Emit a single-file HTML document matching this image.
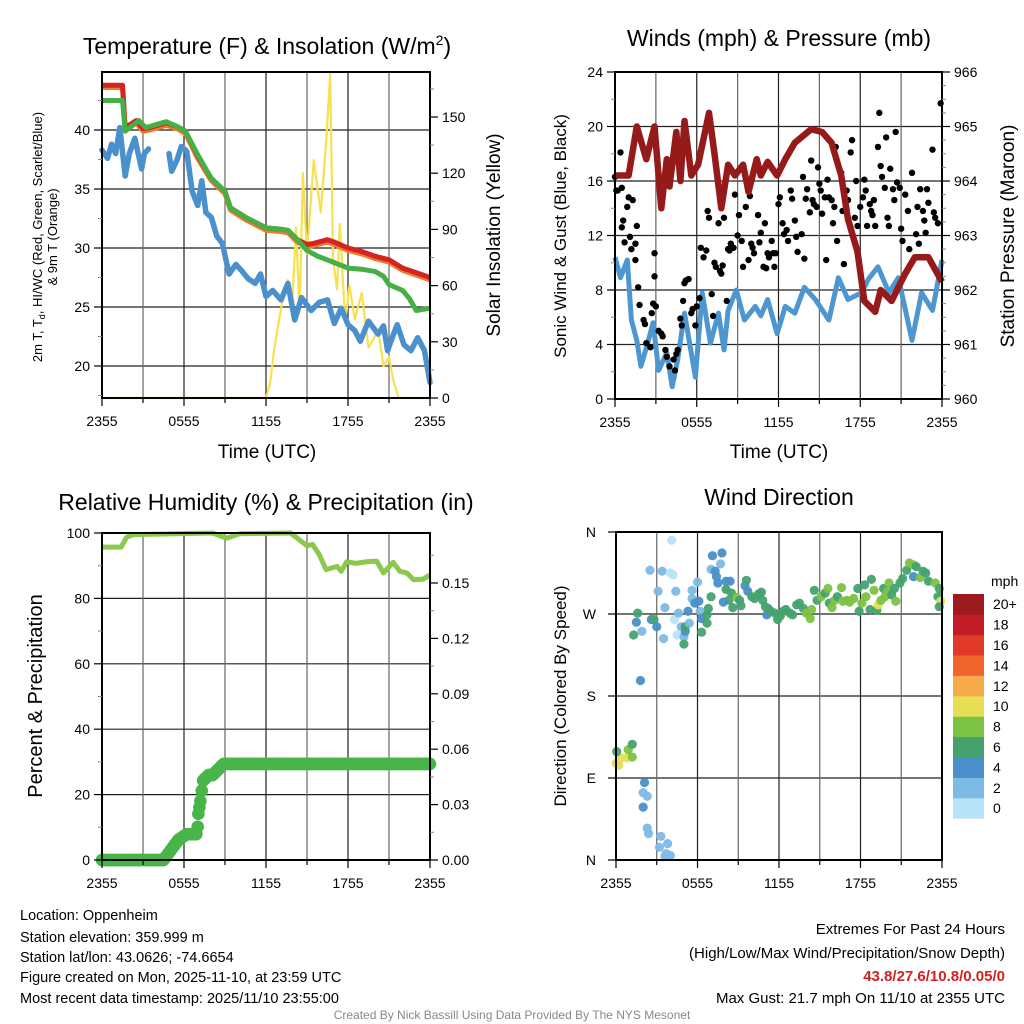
<!DOCTYPE html>
<html><head><meta charset="utf-8">
<style>
html,body{margin:0;padding:0;background:#fff;}
svg{display:block;font-family:"Liberation Sans",Arial,sans-serif;}
</style></head>
<body>
<svg id="chart" width="1024" height="1024" viewBox="0 0 1024 1024" xmlns="http://www.w3.org/2000/svg">
<rect width="1024" height="1024" fill="#fff"/>
<!-- titles -->
<text x="267" y="54" font-size="23" text-anchor="middle">Temperature (F) &amp; Insolation (W/m<tspan font-size="14" dy="-9">2</tspan><tspan dy="9">)</tspan></text>
<text x="779" y="46" font-size="23" text-anchor="middle">Winds (mph) &amp; Pressure (mb)</text>
<text x="266" y="510" font-size="23" text-anchor="middle">Relative Humidity (%) &amp; Precipitation (in)</text>
<text x="779" y="505" font-size="23" text-anchor="middle">Wind Direction</text>
<!-- axis titles -->
<text transform="translate(42,237) rotate(-90)" font-size="13" text-anchor="middle">2m T, T<tspan font-size="9" dy="3">d</tspan><tspan dy="-3">, HI/WC (Red, Green, Scarlet/Blue)</tspan></text>
<text transform="translate(57,237) rotate(-90)" font-size="13" text-anchor="middle">&amp; 9m T (Orange)</text>
<text transform="translate(500,235) rotate(-90)" font-size="19" text-anchor="middle">Solar Insolation (Yellow)</text>
<text transform="translate(566,236) rotate(-90)" font-size="17" text-anchor="middle">Sonic Wind &amp; Gust (Blue, Black)</text>
<text transform="translate(1014,236) rotate(-90)" font-size="19" text-anchor="middle">Station Pressure (Maroon)</text>
<text transform="translate(42,696) rotate(-90)" font-size="20" text-anchor="middle">Percent &amp; Precipitation</text>
<text transform="translate(566,696) rotate(-90)" font-size="17" text-anchor="middle">Direction (Colored By Speed)</text>
<text x="267" y="458" font-size="19" text-anchor="middle">Time (UTC)</text>
<text x="779" y="458" font-size="19" text-anchor="middle">Time (UTC)</text>
<!-- footer -->
<g font-size="14.5">
<text x="20" y="920">Location: Oppenheim</text>
<text x="20" y="942">Station elevation: 359.999 m</text>
<text x="20" y="962">Station lat/lon: 43.0626; -74.6654</text>
<text x="20" y="982">Figure created on Mon, 2025-11-10, at 23:59 UTC</text>
<text x="20" y="1003">Most recent data timestamp: 2025/11/10 23:55:00</text>
</g>
<g font-size="15" text-anchor="end">
<text x="1005" y="934">Extremes For Past 24 Hours</text>
<text x="1005" y="958">(High/Low/Max Wind/Precipitation/Snow Depth)</text>
<text x="1005" y="981" fill="#d42020" font-weight="bold">43.8/27.6/10.8/0.05/0</text>
<text x="1005" y="1003">Max Gust: 21.7 mph On 11/10 at 2355 UTC</text>
</g>
<text x="512" y="1019" font-size="12" fill="#888" text-anchor="middle">Created By Nick Bassill Using Data Provided By The NYS Mesonet</text>
<g id="layer"></g>
</svg>
<script>
// ---------- data ----------
const timeTickLabels = ["2355","0555","1155","1755","2355"];
const tempTicks = [20,25,30,35,40];
const solarTicks = [0,30,60,90,120,150];
const windTicks = [0,4,8,12,16,20,24];
const presTicks = [960,961,962,963,964,965,966];
const rhTicks = [0,20,40,60,80,100];
const precipTicks = [0,0.03,0.06,0.09,0.12,0.15];
const dirTickLabels = ["N","E","S","W","N"];
const speedBinLabels = ["0","2","4","6","8","10","12","14","16","18","20+"];
const speedBinColors = ["#b8e3f8","#7dbbe6","#4a8fc8","#45a26f","#7cc243","#e6df55","#f7aa4a","#f0642d","#e23a2a","#c21d26","#9b1b1e"];

// temperature (hours since 2355, degF)
const tempHours = [0,1.5,1.7,2.5,3.0,3.5,4.7,5.5,6.1,7,8,9,9.4,10.5,12,13,13.6,14.3,15,15.5,16.5,17,18,19,20,21,22,23,24];
const tempVals  = [43.8,43.8,40.2,40.8,40.1,40.2,40.6,40.3,39.9,37.8,35.9,34.8,33.4,32.6,31.7,31.6,31.5,30.7,30.3,30.4,30.7,30.5,30.0,29.7,29.3,29.0,28.3,27.9,27.5];
const hiHours = [0,1.5,1.7,2.7,3.2,4.7,5.5,6.1,7,8,9,9.4,10.5,12,13,13.6,14.3,15,15.8,16.7,18,19,20,20.6,21,22,22.5,23,24];
const hiVals  = [42.5,42.5,39.9,40.8,40.2,40.7,40.3,39.9,37.9,35.9,34.8,33.4,32.6,31.7,31.6,31.5,30.7,29.8,29.3,28.9,28.3,28.2,28.0,27.6,26.9,26.4,25.7,24.7,24.9];
const dewHours = [0,0.4,0.7,1.0,1.3,1.7,2.0,2.4,2.9,3.1,3.4,null,4.9,5.1,5.5,5.8,6.2,6.6,7.0,7.3,7.6,8.0,8.4,8.8,9.3,9.8,10.2,10.7,11.2,11.6,12,12.5,13.1,13.6,14.1,14.6,15.3,15.9,16.5,17,17.5,18,18.5,18.9,19.5,20.2,20.6,20.9,21.3,21.6,22.1,22.6,23.1,23.6,24];
const dewVals  = [38.3,37.6,38.8,38.0,40.2,36.1,38.0,39.3,36.7,38.0,38.4,null,38.0,36.5,37.5,38.6,38.2,34.8,33.6,35.7,33.0,32.6,31.0,30.4,27.8,28.6,28.1,27.4,27.0,27.8,25.9,26.4,25.6,27.0,23.9,25.8,24.7,25.4,25.6,23.6,24.9,23.5,23.0,22.1,23.8,22.7,23.4,21.3,22.6,23.5,21.8,21.3,22.4,21.3,18.6];
const solarHours = [0,12,12.3,12.6,13.2,13.6,13.9,14.2,14.45,14.7,15,15.5,16,16.4,16.7,16.9,17.2,17.4,17.8,18.1,18.5,19,19.5,20.2,20.6,21,21.3,21.7,22,24];
const solarVals  = [0,0,8,26,52,63,48,91,45,120,77,127,99,136,173,74,58,93,40,60,42,56,27,36,17,22,10,0,0,0];

// winds & pressure
const presHours = [0,1.0,1.6,2.3,2.9,3.4,3.8,4.0,4.5,4.8,5.1,5.6,6.1,6.9,7.3,7.8,8.3,8.8,9.4,9.8,10.4,10.7,11.2,11.9,12.5,13.2,14.4,15.2,15.9,16.6,17.1,17.8,18.3,19.1,19.5,20.3,21.3,22.0,23.0,24];
const presVals  = [964.1,964.1,965.0,964.4,965.0,963.5,964.4,963.9,964.9,964.0,965.1,964.1,964.3,965.25,964.5,963.5,964.3,964.1,964.3,963.8,964.4,964.1,964.35,964.1,964.4,964.7,964.95,964.9,964.7,964.1,963.3,962.7,961.8,961.6,962.0,961.8,962.3,962.6,962.6,962.15];
const windHours = [0,0.4,0.9,1.2,1.6,1.9,2.4,2.8,3.2,3.8,4.2,4.6,5.1,5.9,6.4,7.0,7.6,8.0,8.3,8.9,9.5,10.3,10.7,11.2,11.9,12.5,13.2,13.9,14.7,15.7,16.4,17.1,18.1,18.6,19.3,20.1,20.8,21.8,22.5,23.3,24];
const windVals  = [10.4,8.9,10.2,5.8,4.3,2.4,4.1,5.6,2.1,3.4,0.9,2.9,6.3,1.6,7.8,4.1,6.3,3.6,6.5,8.0,5.8,6.8,6.1,7.3,4.8,6.8,6.3,8.2,7.3,5.8,8.9,7.3,7.8,8.8,9.7,7.8,8.9,4.3,7.8,6.5,10.2];
const gustHours = [0,0.2,0.4,0.1,0.5,1.0,0.9,0.6,0.5,1.3,1.6,0.7,1.1,1.2,1.5,1.5,1.7,1.8,2.1,2.2,2.3,2.6,2.7,2.8,2.9,2.9,3.0,3.2,3.4,3.5,3.7,3.8,4.0,4.3,4.4,4.5,4.6,4.8,4.9,5.0,5.1,5.2,5.4,5.6,5.7,5.9,6.0,6.2,6.3,6.5,6.7,6.8,6.9,7.1,7.2,7.3,7.4,7.6,7.7,7.8,7.9,8.0,8.2,8.3,8.4,8.5,8.7,8.8,9.0,9.1,9.3,9.4,9.6,9.8,9.9,10.0,10.1,10.2,10.5,10.6,10.7,10.9,11.0,11.1,11.2,11.3,11.5,11.6,11.7,11.8,12.0,12.1,12.3,12.4,12.6,12.7,12.9,13.0,13.2,13.3,13.4,13.7,13.8,13.9,14.0,14.1,14.3,14.4,14.5,14.6,14.8,14.9,15.0,15.1,15.2,15.4,15.5,15.6,15.7,15.9,16.0,16.1,16.2,16.3,16.6,16.7,16.8,17.0,17.1,17.3,17.4,17.6,17.7,17.8,18.0,18.2,18.3,18.4,18.5,18.7,18.8,18.9,19.0,19.1,19.3,19.4,19.5,19.6,19.8,19.9,20.0,20.1,20.2,20.4,20.5,20.6,20.7,20.9,21.0,21.1,21.3,21.5,21.6,21.8,22.1,22.2,22.3,22.4,22.6,22.7,22.8,22.9,23.0,23.3,23.4,23.5,23.7,23.9];
const gustVals  = [16.3,15.3,18.1,15.3,15.5,14.8,14.1,13.1,12.6,14.6,12.7,11.5,11.9,11.0,11.4,10.2,8.2,6.9,5.8,5.5,4.1,3.8,6.3,7.0,10.7,9.0,6.8,5.0,4.8,4.6,3.6,3.1,2.4,2.9,2.1,3.3,3.6,5.9,5.4,7.2,8.5,8.7,8.8,6.3,6.6,5.4,6.8,7.4,11.1,10.4,10.9,13.8,13.3,7.7,6.1,10.0,9.7,12.9,9.4,9.2,9.8,13.3,7.2,11.0,10.9,11.4,11.1,15.0,12.0,13.5,11.6,9.7,14.1,10.2,14.9,11.4,11.1,10.7,13.5,11.5,12.2,9.7,12.9,9.6,10.7,10.4,11.6,10.7,9.7,10.7,14.3,14.8,12.9,12.1,12.4,11.6,15.3,14.7,13.1,11.9,10.8,12.1,16.3,10.3,14.7,15.4,13.7,17.5,14.6,14.3,14.1,17.0,15.8,15.3,13.6,14.8,10.2,16.1,14.8,14.6,12.9,14.1,18.5,11.6,16.6,13.8,9.9,15.3,14.6,18.1,19.0,13.3,16.0,12.7,14.1,14.8,16.1,15.3,12.7,14.3,13.8,13.5,14.6,12.7,18.5,21.0,17.1,16.3,15.5,19.2,13.3,12.7,16.9,15.4,14.6,19.6,15.9,15.5,12.5,11.6,15.0,13.8,11.0,16.6,12.1,14.1,11.4,15.4,13.8,13.1,12.2,15.4,14.4,18.3,13.7,13.3,12.9,21.7];

// RH & precip
const rhHours = [0,1.4,1.8,2.3,8.1,9.1,10.1,13.8,15.0,15.4,15.9,16.4,17.2,17.5,17.9,18.6,19.3,20.1,20.6,21.3,21.8,22.3,22.8,23.5,24];
const rhVals  = [95.7,95.7,98.7,99.5,100,98.4,99.8,100,96.1,96.5,93.4,88.8,89.8,88.3,91.2,90.7,91.2,91.4,87.8,91.0,88.3,87.8,85.7,85.9,87.2];
const precipHours = [0,4.5,4.95,5.6,6.2,6.9,7.0,7.05,7.2,7.4,7.8,8.1,8.9,24];
const precipVals  = [0,0,0.0045,0.011,0.014,0.014,0.018,0.025,0.032,0.043,0.046,0.046,0.052,0.052];

// wind direction (deg) and speed (mph)
const dirHours = [0.0,0.2,0.4,0.8,0.05,0.9,1.2,1.2,1.3,1.5,1.6,1.9,1.8,2.1,2.0,2.3,2.0,2.3,2.4,3.3,3.2,3.8,3.7,4.0,3.6,2.5,2.6,2.8,3.0,3.1,3.4,3.6,3.5,4.0,4.1,4.2,4.3,4.5,4.4,4.6,4.8,5.0,5.0,5.1,5.1,5.3,5.4,5.6,5.6,5.8,6.0,6.1,6.2,6.3,6.3,6.7,6.8,7.0,6.7,7.1,7.8,7.7,7.0,7.3,7.4,7.5,8.1,8.4,8.1,8.5,8.3,7.9,8.6,8.9,9.1,9.2,9.5,9.6,9.7,10.0,10.2,10.5,10.7,10.8,11.0,11.1,11.2,11.4,11.7,11.9,12.1,12.3,12.5,12.8,13.0,13.3,13.5,13.8,14.0,14.3,14.4,14.6,14.8,15.1,15.4,15.6,15.7,15.9,16.1,16.3,16.6,16.7,17.0,17.2,17.5,17.8,17.9,18.1,18.3,18.4,18.7,18.8,19.0,19.2,19.3,19.5,19.7,19.8,20.0,20.1,20.3,20.5,20.6,20.9,21.1,21.4,21.6,21.9,21.9,22.1,22.4,22.6,22.8,23.0,23.5,23.7,23.8,23.9,23.8];
const dirVals  = [106,104,112,112,119,121,113,127,247,261,271,251,197,85,74,70,58,35,29,26,14,18,7,5,4,318,264,264,256,295,317,277,243,315,351,313,264,247,295,271,256,245,237,251,256,273,260,296,287,282,305,284,273,250,265,269,276,289,260,334,337,325,319,317,311,304,306,306,297,293,285,283,277,288,285,279,301,307,295,289,287,292,294,285,278,269,276,273,271,264,268,273,275,271,269,280,282,276,271,265,275,296,285,289,293,298,282,277,285,289,299,284,285,283,287,298,273,282,302,289,275,308,296,274,280,285,298,289,295,304,291,298,284,304,309,318,326,324,311,322,310,317,315,306,304,289,298,284,278];
const dirSpeeds = [11,11,11,11,7,9,9,7,7,5,7,3,5,5,3,3,5,3,3,3,3,3,3,3,3,3,5,7,5,3,3,3,3,1,1,1,1,1,3,3,3,3,7,5,7,5,3,3,3,5,3,5,3,7,5,7,7,7,7,5,5,3,3,5,5,5,5,5,7,7,7,5,7,9,7,7,5,7,5,7,7,7,7,7,7,5,7,7,7,7,7,7,7,7,7,7,7,7,9,9,9,7,7,9,7,9,7,9,9,7,9,9,9,9,9,7,7,9,7,9,7,7,9,7,11,9,7,9,9,9,7,7,9,7,7,7,9,9,5,7,9,7,7,7,9,7,7,11,7];

// ---------- drawing ----------
const NS = "http://www.w3.org/2000/svg";
const layer = document.getElementById("layer");
function mk(tag, attrs, parent){
  const e = document.createElementNS(NS, tag);
  for (const k in attrs) e.setAttribute(k, attrs[k]);
  (parent||layer).appendChild(e);
  return e;
}
function scale(d0,d1,r0,r1){ return v => r0 + (v-d0)/(d1-d0)*(r1-r0); }

function panelFrame(name, x0,x1,y0,y1, hGridVals, yL, vGrid){
  const g = mk("g",{});
  
  
  for (const v of hGridVals){
    const y = yL(v);
    mk("line",{x1:x0,x2:x1,y1:y,y2:y,stroke:"#222","stroke-width":1.2},g);
  }
  if (vGrid) for (let h=3; h<24; h+=3){
    const x = x0 + h/24*(x1-x0);
    mk("line",{x1:x,x2:x,y1:y0,y2:y1,stroke:(h%6===0?"#222":"#666"),"stroke-width":1.2},g);
  }
  return g;
}
function frameBorder(name,x0,x1,y0,y1){
  const r = mk("rect",{x:x0,y:y0,width:x1-x0,height:y1-y0,fill:"none",stroke:"#000","stroke-width":2});
  
  
}
function xAxis(name,x0,x1,y1){
  const g = mk("g",{});
  
  
  for (let h=0; h<=24; h+=3){
    const x = x0 + h/24*(x1-x0);
    mk("line",{x1:x,x2:x,y1:y1,y2:y1+(h%6===0?8:5),stroke:"#000","stroke-width":1.2},g);
  }
  timeTickLabels.forEach((lab,i)=>{
    const x = x0 + i*6/24*(x1-x0);
    const t = mk("text",{x:x,y:y1+28,"font-size":14,"text-anchor":"middle"},g);
    t.textContent = lab;
  });
}
function yAxis(name, ticks, sc, x, side, fmt, minorStep){
  const g = mk("g",{});
  
  
  const dir = side==="left" ? -1 : 1;
  ticks.forEach(v=>{
    const y = sc(v);
    mk("line",{x1:x,x2:x+dir*8,y1:y,y2:y,stroke:"#000","stroke-width":1.2},g);
    const t = mk("text",{x:x+dir*12,y:y+5,"font-size":14,"text-anchor":side==="left"?"end":"start"},g);
    t.textContent = fmt(v);
  });
  if (minorStep){
    const lo = ticks[0]-minorStep*10, hi = ticks[ticks.length-1]+minorStep*10;
    for (let v=lo; v<=hi+1e-9; v+=minorStep){
      const y = sc(v);
      if (ticks.some(t=>Math.abs(t-v)<1e-9)) continue;
      if (y < sc.top || y > sc.bot) continue;
      mk("line",{x1:x,x2:x+dir*4,y1:y,y2:y,stroke:"#888","stroke-width":1},g);
    }
  }
}
function pathFrom(hours, vals, xs, ys){
  let d = "", pen = false;
  for (let i=0;i<hours.length;i++){
    if (hours[i]===null || vals[i]===null){ pen=false; continue; }
    d += (pen?"L":"M") + xs(hours[i]).toFixed(1) + "," + ys(vals[i]).toFixed(1);
    pen = true;
  }
  return d;
}

// ---- Panel 1 ----
{
  const x0=102,x1=430,y0=72,y1=398;
  const xs = scale(0,24,x0,x1);
  const yT = scale(20,40,366,130); yT.top=y0; yT.bot=y1;
  const yS = scale(0,150,398,117); yS.top=y0; yS.bot=y1;
  panelFrame("temperature",x0,x1,y0,y1,tempTicks,yT,true);
  const ps = mk("path",{d:pathFrom(solarHours,solarVals,xs,yS),fill:"none",stroke:"#f8e04f","stroke-width":2.2,"stroke-linejoin":"round"});
  
  
  const pd = mk("path",{d:pathFrom(dewHours,dewVals,xs,yT),fill:"none",stroke:"#4a90cc","stroke-width":5.5,"stroke-linejoin":"round","stroke-linecap":"round"});
  
  
  const po = mk("path",{d:pathFrom(tempHours,tempVals.map(v=>v-0.2),xs,yT),fill:"none",stroke:"#f07b2d","stroke-width":5,"stroke-linejoin":"round"});
  
  
  const pt = mk("path",{d:pathFrom(tempHours,tempVals,xs,yT),fill:"none",stroke:"#d42323","stroke-width":5,"stroke-linejoin":"round"});
  
  
  const ph = mk("path",{d:pathFrom(hiHours,hiVals,xs,yT),fill:"none",stroke:"#46b046","stroke-width":5,"stroke-linejoin":"round"});
  
  
  frameBorder("temperature",x0,x1,y0,y1);
  xAxis("temperature",x0,x1,y1);
  yAxis("temperature-y-axis",tempTicks,yT,x0,"left",v=>v,2.5);
  yAxis("solar-y-axis",solarTicks,yS,x1,"right",v=>v,15);
}

// ---- Panel 2 ----
{
  const x0=615,x1=942,y0=72,y1=399;
  const xs = scale(0,24,x0,x1);
  const yW = scale(0,24,399,72); yW.top=y0; yW.bot=y1;
  const yP = scale(960,966,399,72); yP.top=y0; yP.bot=y1;
  panelFrame("winds",x0,x1,y0,y1,windTicks.slice(1,-1),yW,true);
  const pw = mk("path",{d:pathFrom(windHours,windVals,xs,yW),fill:"none",stroke:"#4d96d0","stroke-width":5,"stroke-linejoin":"round"});
  
  
  const gg = mk("g",{});
  
  
  gustHours.forEach((h,i)=>{
    const c = mk("circle",{cx:xs(h),cy:yW(gustVals[i]),r:3.2,fill:"#000"},gg);
    
    
  });
  const pp = mk("path",{d:pathFrom(presHours,presVals,xs,yP),fill:"none",stroke:"#961a1a","stroke-width":6.5,"stroke-linejoin":"round"});
  
  
  frameBorder("winds",x0,x1,y0,y1);
  xAxis("winds",x0,x1,y1);
  yAxis("wind-y-axis",windTicks,yW,x0,"left",v=>v,2);
  yAxis("pressure-y-axis",presTicks,yP,x1,"right",v=>v,0.25);
}

// ---- Panel 3 ----
{
  const x0=102,x1=430,y0=533,y1=860;
  const xs = scale(0,24,x0,x1);
  const yR = scale(0,100,860,533); yR.top=y0; yR.bot=y1;
  const yQ = scale(0,0.15,860,583); yQ.top=y0; yQ.bot=y1;
  panelFrame("humidity",x0,x1,y0,y1,rhTicks.slice(1,-1),yR,true);
  const pr = mk("path",{d:pathFrom(rhHours,rhVals,xs,yR),fill:"none",stroke:"#8bc94d","stroke-width":5,"stroke-linejoin":"round"});
  
  
  // precip dots sampled along the cumulative series every 5 min
  const pg = mk("g",{});
  
  
  for (let k=0;k<precipHours.length-1;k++){
    const h0=precipHours[k],h1=precipHours[k+1];
    const n=Math.max(1,Math.round((h1-h0)*12));
    for (let j=0;j<n;j++){
      const f=j/n, h=h0+(h1-h0)*f, v=precipVals[k]+(precipVals[k+1]-precipVals[k])*f;
      const c = mk("circle",{cx:xs(h),cy:yQ(v),r:6.3,fill:"#48b548"},pg);
      
      
    }
  }
  const last = mk("circle",{cx:xs(24),cy:yQ(precipVals[precipVals.length-1]),r:6.3,fill:"#48b548"},pg);
  
  
  frameBorder("humidity",x0,x1,y0,y1);
  xAxis("humidity",x0,x1,y1);
  yAxis("humidity-y-axis",rhTicks,yR,x0,"left",v=>v,10);
  yAxis("precip-y-axis",precipTicks,yQ,x1,"right",v=>v.toFixed(2),0.015);
}

// ---- Panel 4 ----
{
  const x0=616,x1=942,y0=532,y1=860;
  const xs = scale(0,24,x0,x1);
  const yD = scale(0,360,860,532); yD.top=y0; yD.bot=y1;
  panelFrame("direction",x0,x1,y0,y1,[90,180,270],yD,true);
  const dg = mk("g",{});
  
  
  dirHours.forEach((h,i)=>{
    const bin = Math.min(10,Math.floor(dirSpeeds[i]/2));
    const c = mk("circle",{cx:xs(h),cy:yD(dirVals[i]),r:4.6,fill:speedBinColors[bin],"fill-opacity":0.95},dg);
    
    
  });
  frameBorder("direction",x0,x1,y0,y1);
  xAxis("direction",x0,x1,y1);
  const ga = mk("g",{});
  
  
  dirTickLabels.forEach((lab,i)=>{
    const y = yD(i*90);
    mk("line",{x1:x0,x2:x0-8,y1:y,y2:y,stroke:"#000","stroke-width":1.2},ga);
    const t = mk("text",{x:x0-20,y:y+5,"font-size":14,"text-anchor":"end"},ga);
    t.textContent = lab;
  });
  // colorbar
  const cb = mk("g",{});
  
  
  const ct = mk("text",{x:991,y:586,"font-size":14},cb);
  ct.textContent = "mph";
  const bx=953,bw=31,btop=594,bh=20.4;
  speedBinLabels.forEach((lab,i)=>{
    const y = btop + (10-i)*bh;
    const r = mk("rect",{x:bx,y:y,width:bw,height:bh+0.3,fill:speedBinColors[i]},cb);
    
    
    const t = mk("text",{x:993,y:y+bh/2+5,"font-size":14},cb);
    t.textContent = lab;
  });
}
</script>
</body></html>
